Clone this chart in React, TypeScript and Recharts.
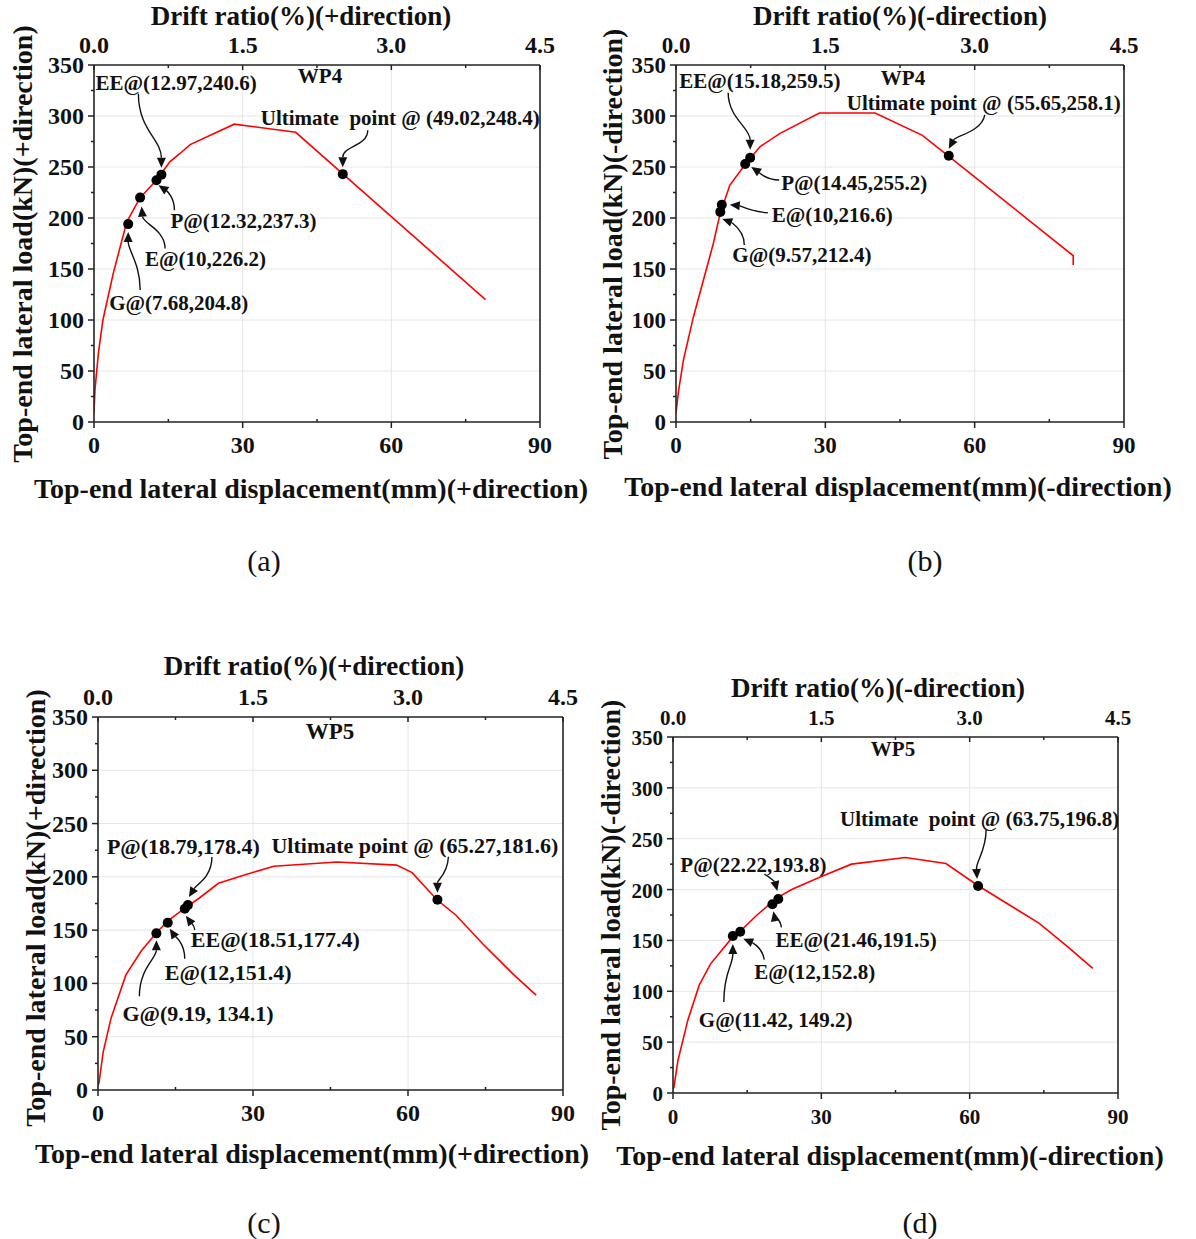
import React from "react";
import { ComposedChart, Line, Scatter, XAxis, YAxis, ReferenceLine } from "recharts";

const SERIF = '"Liberation Serif", "Times New Roman", serif';
const AXIS = "#222";

// ---- data (displacement mm, load kN) ----
const wp4PosDisp = [0, 0.2, 0.9, 1.8, 3.9, 6.6, 9.3, 12.6, 15.3, 17.3, 19.4, 28.3, 40.7, 79];
const wp4PosLoad = [9, 32, 68, 100, 146, 196, 220, 237, 255, 263, 272, 292, 284, 120];

const wp4NegDisp = [0, 0.5, 1.5, 3.5, 5.5, 7.5, 8.8, 10.8, 13.5, 16.9, 20.9, 28.8, 40, 49.5, 55.2, 79.8, 79.8];
const wp4NegLoad = [9, 30, 61, 103, 139, 175, 203, 232, 250, 270, 283, 303, 303, 281, 259, 163, 154];

const wp5PosDisp = [0, 0.2, 1, 2.5, 5.4, 8.4, 11.4, 13.6, 16.6, 19.5, 23.3, 28.5, 34, 46.3, 57.8, 60.8, 65.6, 69.3, 74.5, 80.5, 84.8];
const wp5PosLoad = [4, 7, 35.5, 67, 108, 130.6, 148, 159, 170, 179.7, 194, 202, 210, 214, 211, 204, 178.5, 164, 137, 108, 89];

const wp5NegDisp = [0, 0.2, 1, 3, 5.3, 7.6, 11.5, 13.5, 17, 20.9, 24, 29.9, 36.1, 47, 55.2, 61.5, 74, 79.8, 84.9];
const wp5NegLoad = [4, 6, 32, 71.6, 106, 127, 150, 158.6, 175, 191.4, 200, 212.5, 225, 231.5, 225.6, 204.5, 167, 144, 122.5];

// drift ratio (%) = displacement / 20 (90 mm -> 4.5 %)
const DRIFT_PER_MM = 1 / 20;

// ---- characteristic points ----
const pointIds = ["G", "E", "P", "EE", "U"];

const wp4PosPtDisp = [6.9, 9.3, 12.6, 13.6, 50.2];
const wp4PosPtLoad = [194, 220, 237, 242.5, 243];
const wp4PosPtLabel = ["G@(7.68,204.8)", "E@(10,226.2)", "P@(12.32,237.3)", "EE@(12.97,240.6)", "Ultimate  point @ (49.02,248.4)"];

const wp4NegPtDisp = [8.9, 9.2, 13.9, 14.9, 54.8];
const wp4NegPtLoad = [206, 213, 253, 259, 261];
const wp4NegPtLabel = ["G@(9.57,212.4)", "E@(10,216.6)", "P@(14.45,255.2)", "EE@(15.18,259.5)", "Ultimate point @ (55.65,258.1)"];

const wp5PosPtDisp = [11.3, 13.5, 17.4, 16.8, 65.7];
const wp5PosPtLoad = [147, 157, 173.5, 170, 178.5];
const wp5PosPtLabel = ["G@(9.19, 134.1)", "E@(12,151.4)", "P@(18.79,178.4)", "EE@(18.51,177.4)", "Ultimate point @ (65.27,181.6)"];

const wp5NegPtDisp = [12.1, 13.6, 21.3, 20.1, 61.7];
const wp5NegPtLoad = [154.3, 158.6, 190.7, 185.5, 203.5];
const wp5NegPtLabel = ["G@(11.42, 149.2)", "E@(12,152.8)", "P@(22.22,193.8)", "EE@(21.46,191.5)", "Ultimate  point @ (63.75,196.8)"];

// ---- axis ticks ----
const dispTicks = [0, 15, 30, 45, 60, 75, 90];
const dispMajor = [0, 30, 60, 90];
const driftTicks = [0, 0.75, 1.5, 2.25, 3, 3.75, 4.5];
const driftMajor = [0, 1.5, 3, 4.5];
const loadTicks = [0, 25, 50, 75, 100, 125, 150, 175, 200, 225, 250, 275, 300, 325, 350];
const loadMajor = [0, 50, 100, 150, 200, 250, 300, 350];
const gridDisp = [30, 60];
const gridLoad = [50, 100, 150, 200, 250, 300];

const zip = (xs: number[], ys: number[]) => xs.map((x, i) => ({ x, y: ys[i] }));
const pts = (xs: number[], ys: number[], labels: string[]) =>
  xs.map((x, i) => ({ x, y: ys[i], id: pointIds[i], label: labels[i] }));

// annotation layout, px offsets from the marker: text start, arrow tail, c1, c2, tip
type Note = { tx: number; ty: number; arrow: number[] };

const notesA: Record<string, Note> = {
  EE: { tx: -66, ty: -92, arrow: [-23, -81, -23, -45, 0, -35, 0, -7] },
  U: { tx: -82, ty: -56, arrow: [25, -44, 25, -28, 0, -28, 0, -7] },
  P: { tx: 14, ty: 40, arrow: [18, 30, 18, 15, 8, 9, 2, 5] },
  E: { tx: 5, ty: 61, arrow: [25, 51, 25, 32, 3, 26, 1.5, 9] },
  G: { tx: -19, ty: 79, arrow: [12, 66, 12, 40, 0, 26, 0, 8] },
};
const notesB: Record<string, Note> = {
  EE: { tx: -71, ty: -77, arrow: [-22, -65, -22, -40, 0, -30, 0, -8] },
  U: { tx: -102, ty: -53, arrow: [36, -41, 33, -24, 7, -20, 0, -7] },
  P: { tx: 36, ty: 19, arrow: [34, 16, 20, 16, 12, 7, 6, 3] },
  E: { tx: 50, ty: 10, arrow: [46, 8, 32, 7, 18, 1, 8, 0] },
  G: { tx: 12, ty: 43, arrow: [24, 33, 24, 18, 10, 10, 2, 7] },
};
const notesC: Record<string, Note> = {
  P: { tx: -81, ty: -59, arrow: [24, -48, 24, -28, 9, -21, 1, -8] },
  U: { tx: -166, ty: -54, arrow: [11, -43, 10, -25, 0, -20, 0, -7] },
  EE: { tx: 6, ty: 30, arrow: [10, 21, 9, 15, 4, 11, 1, 7] },
  E: { tx: -3, ty: 50, arrow: [17, 36, 17, 20, 6, 12, 2, 6] },
  G: { tx: -34, ty: 80, arrow: [-17, 63, -17, 35, 0, 25, 0, 7] },
};
const notesD: Record<string, Note> = {
  P: { tx: -98, ty: -34, arrow: [-14, -25, -8, -22, -3, -16, -1, -8] },
  U: { tx: -138, ty: -67, arrow: [8, -56, 8, -35, -2, -25, -1, -7] },
  EE: { tx: 3, ty: 35, arrow: [9, 23, 8, 15, 2, 12, 1, 7] },
  E: { tx: 14, ty: 40, arrow: [24, 28, 22, 15, 10, 10, 3, 7] },
  G: { tx: -34, ty: 84, arrow: [-9, 66, -9, 35, 0, 30, 0, 8] },
};

function MarkerNote(props: any) {
  const { cx, cy, payload, notes, font } = props;
  const n: Note | undefined = notes[payload.id];
  const dot = <circle cx={cx} cy={cy} r={5} fill="#000" />;
  if (!n) return dot;
  const a = n.arrow;
  const tip = [cx + a[6], cy + a[7]];
  const c2 = [cx + a[4], cy + a[5]];
  const ang = Math.atan2(tip[1] - c2[1], tip[0] - c2[0]);
  const L = 10;
  const W = 4.5;
  const base = [tip[0] - L * Math.cos(ang), tip[1] - L * Math.sin(ang)];
  const px = -Math.sin(ang) * W;
  const py = Math.cos(ang) * W;
  const d = `M${cx + a[0]},${cy + a[1]} C${cx + a[2]},${cy + a[3]} ${c2[0]},${c2[1]} ${base[0]},${base[1]}`;
  return (
    <g>
      <path d={d} fill="none" stroke="#111" strokeWidth={1.4} />
      <polygon
        points={`${tip[0]},${tip[1]} ${base[0] + px},${base[1] + py} ${base[0] - px},${base[1] - py}`}
        fill="#111"
      />
      {dot}
      <text
        x={cx + n.tx}
        y={cy + n.ty}
        dy="0.35em"
        fontFamily={SERIF}
        fontWeight="bold"
        fontSize={font}
        fill="#111"
        style={{ whiteSpace: "pre" }}
      >
        {payload.label}
      </text>
    </g>
  );
}

function BottomTick({ x, y, payload, font }: any) {
  const major = dispMajor.includes(payload.value);
  return (
    <g>
      <line x1={x} x2={x} y1={y} y2={major ? y + 6 : y - 3} stroke={AXIS} strokeWidth={1.5} />
      {major && (
        <text x={x} y={y + 31} textAnchor="middle" fontFamily={SERIF} fontWeight="bold" fontSize={font} fill="#111">
          {payload.value}
        </text>
      )}
    </g>
  );
}

function TopTick({ x, y, payload, font }: any) {
  const major = driftMajor.includes(payload.value);
  return (
    <g>
      <line x1={x} x2={x} y1={y} y2={major ? y + 5 : y + 3} stroke={AXIS} strokeWidth={1.5} />
      {major && (
        <text x={x} y={y - 12} textAnchor="middle" fontFamily={SERIF} fontWeight="bold" fontSize={font} fill="#111">
          {Number(payload.value).toFixed(1)}
        </text>
      )}
    </g>
  );
}

function LeftTick({ x, y, payload, font }: any) {
  const major = loadMajor.includes(payload.value);
  return (
    <g>
      <line x1={major ? x - 6 : x - 3} x2={x} y1={y} y2={y} stroke={AXIS} strokeWidth={1.5} />
      {major && (
        <text x={x - 10} y={y + 8} textAnchor="end" fontFamily={SERIF} fontWeight="bold" fontSize={font} fill="#111">
          {payload.value}
        </text>
      )}
    </g>
  );
}

type PanelCfg = {
  left: number;
  top: number;
  plotW: number;
  plotH: number;
  tickFont: number;
  noteFont: number;
  curve: { x: number; y: number }[];
  points: { x: number; y: number; id: string; label: string }[];
  notes: Record<string, Note>;
};

const panels: PanelCfg[] = [
  { left: 94, top: 65, plotW: 446, plotH: 357, tickFont: 24, noteFont: 21, curve: zip(wp4PosDisp, wp4PosLoad), points: pts(wp4PosPtDisp, wp4PosPtLoad, wp4PosPtLabel), notes: notesA },
  { left: 676, top: 65, plotW: 448, plotH: 357, tickFont: 23, noteFont: 21, curve: zip(wp4NegDisp, wp4NegLoad), points: pts(wp4NegPtDisp, wp4NegPtLoad, wp4NegPtLabel), notes: notesB },
  { left: 98, top: 717, plotW: 465, plotH: 373, tickFont: 24, noteFont: 22, curve: zip(wp5PosDisp, wp5PosLoad), points: pts(wp5PosPtDisp, wp5PosPtLoad, wp5PosPtLabel), notes: notesC },
  { left: 673, top: 737, plotW: 445, plotH: 356, tickFont: 21, noteFont: 21, curve: zip(wp5NegDisp, wp5NegLoad), points: pts(wp5NegPtDisp, wp5NegPtLoad, wp5NegPtLabel), notes: notesD },
];

// titles and captions (page coordinates of text centres)
const titles = [
  { top: [301, 16], bottom: [311, 488], side: [22, 244], wp: [320, 76], cap: [264, 560], dir: "+", name: "WP4", wpFont: 21, letter: "(a)" },
  { top: [900, 16], bottom: [898, 486], side: [612, 244], wp: [903, 78], cap: [925, 560], dir: "-", name: "WP4", wpFont: 21, letter: "(b)" },
  { top: [314, 666], bottom: [312, 1153], side: [35, 908], wp: [330, 731], cap: [264, 1222], dir: "+", name: "WP5", wpFont: 23, letter: "(c)" },
  { top: [878, 688], bottom: [890, 1155], side: [610, 915], wp: [893, 749], cap: [920, 1222], dir: "-", name: "WP5", wpFont: 21, letter: "(d)" },
];

function Panel({ cfg }: { cfg: PanelCfg }) {
  const W = cfg.plotW + 90 + 70;
  const H = cfg.plotH + 60 + 60;
  const drift = cfg.curve.map((p) => ({ x: p.x * DRIFT_PER_MM, y: p.y }));
  return (
    <div style={{ position: "absolute", left: cfg.left - 90, top: cfg.top - 60 }}>
      <ComposedChart width={W} height={H} margin={{ top: 0, right: 70, bottom: 0, left: 0 }}>
        <XAxis
          xAxisId="b"
          dataKey="x"
          type="number"
          domain={[0, 90]}
          ticks={dispTicks}
          interval={0}
          height={60}
          tickSize={0}
          tickMargin={0}
          allowDataOverflow
          axisLine={{ stroke: AXIS, strokeWidth: 1.6 }}
          tick={(p: any) => <BottomTick {...p} font={cfg.tickFont} />}
        />
        <XAxis
          xAxisId="t"
          dataKey="x"
          orientation="top"
          type="number"
          domain={[0, 4.5]}
          ticks={driftTicks}
          interval={0}
          height={60}
          tickSize={0}
          tickMargin={0}
          allowDataOverflow
          axisLine={{ stroke: AXIS, strokeWidth: 1.6 }}
          tick={(p: any) => <TopTick {...p} font={cfg.tickFont} />}
        />
        <YAxis
          type="number"
          domain={[0, 350]}
          ticks={loadTicks}
          interval={0}
          width={90}
          tickSize={0}
          tickMargin={0}
          allowDataOverflow
          axisLine={{ stroke: AXIS, strokeWidth: 1.6 }}
          tick={(p: any) => <LeftTick {...p} font={cfg.tickFont} />}
        />
        {gridDisp.map((v) => (
          <ReferenceLine key={`gx${v}`} xAxisId="b" x={v} stroke="#e6e6e6" strokeWidth={1} />
        ))}
        {gridLoad.map((v) => (
          <ReferenceLine key={`gy${v}`} xAxisId="b" y={v} stroke="#e6e6e6" strokeWidth={1} />
        ))}
        <ReferenceLine xAxisId="b" x={90} stroke={AXIS} strokeWidth={1.6} />
        {/* same curve against drift ratio, invisible: it only carries the top axis */}
        <Line
          xAxisId="t"
          data={drift}
          dataKey="y"
          type="linear"
          stroke="none"
          dot={false}
          activeDot={false}
          isAnimationActive={false}
        />
        <Line
          xAxisId="b"
          data={cfg.curve}
          dataKey="y"
          type="linear"
          stroke="#ff0000"
          strokeWidth={1.6}
          dot={false}
          activeDot={false}
          isAnimationActive={false}
        />
        <Scatter
          xAxisId="b"
          data={cfg.points}
          dataKey="y"
          fill="#000"
          isAnimationActive={false}
          shape={(p: any) => <MarkerNote {...p} notes={cfg.notes} font={cfg.noteFont} />}
        />
      </ComposedChart>
    </div>
  );
}

export default function App() {
  const tStyle = { fontFamily: SERIF, fontWeight: "bold" as const, fill: "#111" };
  return (
    <div style={{ position: "absolute", left: 0, top: 0, width: 1196, height: 1239, background: "#fff", overflow: "hidden" }}>
      {panels.map((cfg, i) => (
        <Panel key={i} cfg={cfg} />
      ))}
      <svg width={1196} height={1239} style={{ position: "absolute", left: 0, top: 0, pointerEvents: "none" }}>
        {titles.map((t, i) => (
          <g key={i}>
            <text x={t.top[0]} y={t.top[1]} dy="0.35em" textAnchor="middle" fontSize={27} {...tStyle}>
              {`Drift ratio(%)(${t.dir}direction)`}
            </text>
            <text x={t.bottom[0]} y={t.bottom[1]} dy="0.35em" textAnchor="middle" fontSize={28} {...tStyle}>
              {`Top-end lateral displacement(mm)(${t.dir}direction)`}
            </text>
            <text
              x={t.side[0]}
              y={t.side[1]}
              dy="0.35em"
              textAnchor="middle"
              fontSize={28}
              transform={`rotate(-90 ${t.side[0]} ${t.side[1]})`}
              {...tStyle}
            >
              {`Top-end lateral load(kN)(${t.dir}direction)`}
            </text>
            <text x={t.wp[0]} y={t.wp[1]} dy="0.35em" textAnchor="middle" fontSize={t.wpFont} {...tStyle}>
              {t.name}
            </text>
            <text x={t.cap[0]} y={t.cap[1]} dy="0.35em" textAnchor="middle" fontSize={30} fontFamily={SERIF} fill="#111">
              {t.letter}
            </text>
          </g>
        ))}
      </svg>
    </div>
  );
}
